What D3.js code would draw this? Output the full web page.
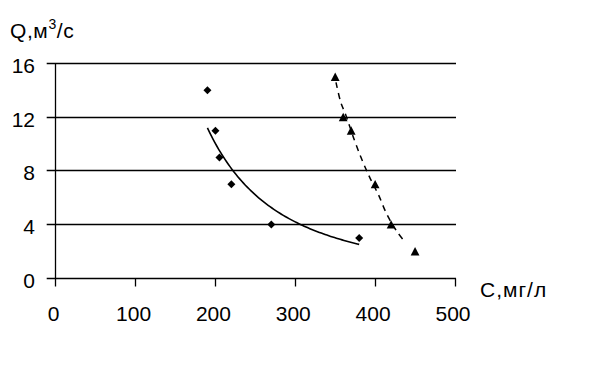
<!DOCTYPE html>
<html><head><meta charset="utf-8">
<script src="https://cdn.jsdelivr.net/npm/d3@7"></script>
<style>
body{margin:0;background:#fff}
svg{display:block}
text{font-family:"Liberation Sans",Arial,sans-serif;fill:#000}
</style>
</head><body>
<svg id="c" width="601" height="390"></svg>
<script>
// ---- data ----
const xTicks = [0, 100, 200, 300, 400, 500];
const yTicks = [0, 4, 8, 12, 16];
const diamondC = [190, 200, 205, 220, 270, 380];
const diamondQ = [14, 11, 9, 7, 4, 3];
const triangleC = [350, 360, 370, 400, 420, 450];
const triangleQ = [15, 12, 11, 7, 4, 2];
// dashed trend line
const dashTrendC = [351, 357, 363, 374, 383, 391, 397, 404, 414, 426, 438];
const dashTrendQ = [14.6, 13.1, 12.2, 10.3, 8.9, 7.8, 7.05, 6.25, 4.85, 3.6, 2.65];
const xTitle = "С,мг/л";
const yTitleMain = "Q,м";
const yTitleSup = "3";
const yTitleEnd = "/с";

// ---- scales ----
const x = d3.scaleLinear().domain([0, 500]).range([55.7, 455]);
const y = d3.scaleLinear().domain([0, 16]).range([278.3, 63.5]);
const svg = d3.select("#c");
const fs = 21;
const crisp = v => Math.round(v - 0.5) + 0.5;

// grid lines + y ticks
svg.append("g").selectAll("line").data(yTicks).join("line")
  .attr("x1", x(0) - 9).attr("x2", x(500) + 1)
  .attr("y1", d => crisp(y(d))).attr("y2", d => crisp(y(d)))
  .attr("stroke", "#000").attr("stroke-width", 1.3);
// y axis line
svg.append("line").attr("x1", crisp(x(0))).attr("x2", crisp(x(0)))
  .attr("y1", crisp(y(16))).attr("y2", crisp(y(0))).attr("stroke", "#000").attr("stroke-width", 1.3);
// x ticks
svg.append("g").selectAll("line").data(xTicks).join("line")
  .attr("x1", d => crisp(x(d))).attr("x2", d => crisp(x(d)))
  .attr("y1", crisp(y(0))).attr("y2", crisp(y(0)) + 8)
  .attr("stroke", "#000").attr("stroke-width", 1.3);

// y tick labels
svg.append("g").selectAll("text").data(yTicks).join("text")
  .attr("x", 35).attr("y", d => y(d) + 9.3)
  .attr("text-anchor", "end").attr("font-size", fs).text(d => d);
// x tick labels
svg.append("g").selectAll("text").data(xTicks).join("text")
  .attr("x", d => x(d) - 2).attr("y", 321)
  .attr("text-anchor", "middle").attr("font-size", fs).text(d => d);

// axis titles
svg.append("text").attr("x", 480).attr("y", 297).attr("font-size", fs)
  .attr("letter-spacing", 1).text(xTitle);
const yt = svg.append("text").attr("x", 10).attr("y", 38).attr("font-size", fs)
  .attr("letter-spacing", 0.6);
yt.append("tspan").text(yTitleMain);
yt.append("tspan").attr("font-size", 14).attr("dy", -9).text(yTitleSup);
yt.append("tspan").attr("dy", 9).text(yTitleEnd);

// power trend line for diamonds (least squares on logs)
const lx = diamondC.map(Math.log), ly = diamondQ.map(Math.log);
const mx = d3.mean(lx), my = d3.mean(ly);
const b = d3.sum(lx.map((v, i) => (v - mx) * (ly[i] - my))) / d3.sum(lx.map(v => (v - mx) ** 2));
const a = Math.exp(my - b * mx);
const cMin = d3.min(diamondC), cMax = d3.max(diamondC);
const trend = d3.range(0, 81).map(i => { const c = cMin + (cMax - cMin) * i / 80; return [c, a * Math.pow(c, b)]; });
svg.append("path").datum(trend)
  .attr("d", d3.line().x(d => x(d[0])).y(d => y(d[1])))
  .attr("fill", "none").attr("stroke", "#000").attr("stroke-width", 1.6);

// dashed trend line
svg.append("path").datum(dashTrendC.map((c, i) => [c, dashTrendQ[i]]))
  .attr("d", d3.line().x(d => x(d[0])).y(d => y(d[1])).curve(d3.curveCatmullRom))
  .attr("fill", "none").attr("stroke", "#000").attr("stroke-width", 1.5)
  .attr("stroke-dasharray", "6,5");

// diamond markers
svg.append("g").selectAll("path").data(diamondC.map((c, i) => [c, diamondQ[i]])).join("path")
  .attr("d", d3.symbol(d3.symbolSquare, 32)())
  .attr("transform", d => `translate(${x(d[0])},${y(d[1])}) rotate(45)`)
  .attr("fill", "#000");

// triangle markers
const tri = "M0,-4.4L4.4,4L-4.4,4Z";
svg.append("g").selectAll("path").data(triangleC.map((c, i) => [c, triangleQ[i]])).join("path")
  .attr("d", tri)
  .attr("transform", d => `translate(${x(d[0])},${y(d[1])})`)
  .attr("fill", "#000");
</script>
</body></html>
